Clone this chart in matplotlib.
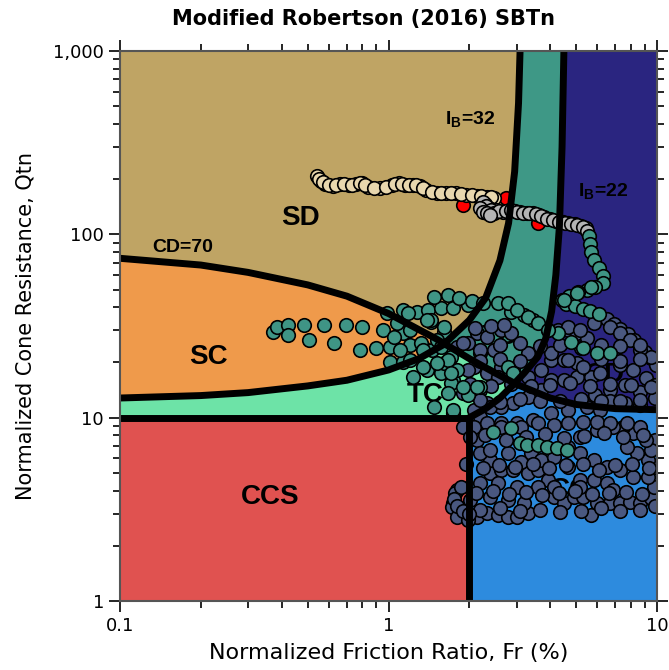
import numpy as np
import matplotlib.pyplot as plt
from matplotlib.colors import ListedColormap
from matplotlib.ticker import FixedLocator, FuncFormatter, NullFormatter

plt.rcParams['mathtext.fontset'] = 'custom'
plt.rcParams['mathtext.bf'] = 'Liberation Sans:bold'
plt.rcParams['mathtext.rm'] = 'Liberation Sans:bold'

# zone boundaries (Fr %, Qtn)
cd70_fr = [0.1, 0.2, 0.3, 0.5, 0.7, 1.0, 1.5, 2.0, 2.5, 3.0, 4.0, 5.0, 7.0, 10.0]
cd70_q = [74, 68, 62, 53, 46, 37, 27, 21, 17.5, 15.2, 12.8, 11.8, 11.2, 11.05]
ib32_fr = [0.1, 0.2, 0.3, 0.5, 0.7, 1.0, 1.3, 1.6, 2.0, 2.3, 2.6, 2.8, 2.95, 3.05, 3.09]
ib32_q = [12.8, 13.2, 13.7, 14.9, 16.0, 18.2, 21, 25, 34, 45, 72, 115, 220, 520, 1000]
ib22_fr = [2.0, 2.3, 2.6, 2.9, 3.2, 3.6, 3.85, 4.05, 4.2, 4.33, 4.43, 4.5]
ib22_q = [10, 11.2, 12.8, 15, 17.5, 21.5, 27, 38, 60, 110, 300, 1000]
ccs_fr = 2.0
ccs_q = 10.0

zone_names = ['SD', 'TD', 'CD', 'SC', 'TC', 'CC', 'CCS']
zone_colors = ['#BFA464', '#3E9886', '#2A2580', '#EF9A4B', '#6DE3A7', '#2D8BDE', '#E05250']
label_fr = [0.47, 2.61, 6.4, 0.214, 1.37, 4.75, 0.363]
label_q = [123, 27.6, 17.1, 21.4, 13.3, 4.03, 3.69]

# CPT data points
red_fr = [1.90, 2.73, 3.59]
red_q = [145, 158, 115]

beige_fr = [0.54, 0.56, 0.58, 0.62, 0.66, 0.71, 0.76, 0.80, 0.84, 0.93, 1.03, 1.09,
            1.15, 1.23, 1.31, 1.38, 1.51, 1.64, 1.79, 1.95, 2.13, 2.32, 2.48,
            0.55, 0.57, 0.60, 0.64, 0.68, 0.73, 0.78, 0.82, 0.88, 0.98, 1.06, 1.12,
            1.19, 1.27, 1.35, 1.45, 1.57, 1.71, 1.87, 2.04, 2.22, 2.40]
beige_q = [208, 196, 188, 184, 188, 186, 188, 191, 181, 179, 186, 191,
           186, 186, 184, 175, 168, 168, 168, 164, 162, 160, 158,
           200, 192, 186, 186, 187, 186, 190, 185, 180, 182, 189, 188,
           186, 185, 180, 171, 168, 168, 166, 163, 161, 159]

gray_fr = [2.28, 2.36, 2.44, 2.52, 2.66, 2.80, 2.95, 3.10, 3.27, 3.44, 3.62, 3.81,
           4.01, 4.22, 4.45, 4.68, 4.93, 5.19, 5.46,
           2.24, 2.30, 2.40, 2.48, 2.59, 2.73, 2.87, 3.02, 3.18, 3.35, 3.53, 3.71,
           3.91, 4.11, 4.33, 4.56, 4.80, 5.05, 5.32, 5.50, 2.20, 2.25, 2.32, 2.38]
gray_q = [146, 139, 132, 136, 132, 136, 134, 132, 131, 131, 128, 124,
          121, 118, 117, 115, 114, 111, 108,
          150, 142, 135, 130, 134, 134, 135, 133, 131, 131, 129, 126,
          122, 120, 117, 116, 114, 112, 110, 104, 140, 133, 130, 128]

teal_fr = [5.56, 5.65, 5.70, 5.85, 6.06, 6.27, 6.27, 5.90, 5.51, 5.10, 4.72, 4.41,
           4.60, 4.93, 5.28, 5.65, 6.06,
           0.370, 0.386, 0.421, 0.424, 0.483, 0.504, 0.573, 0.624, 0.692, 0.800, 0.950,
           0.786, 0.895, 1.017, 1.137, 1.044, 1.207, 1.350, 1.458, 1.017, 1.137, 1.239,
           1.397, 1.562, 1.746, 1.969, 2.201, 0.991, 1.137, 1.282, 1.409, 1.562, 1.746,
           1.969, 1.434, 1.603, 1.522, 1.702, 1.807, 1.603,
           1.471, 1.659, 1.83, 2.055, 2.258, 2.547, 2.847, 3.183, 3.467, 1.177, 1.434,
           1.207, 1.316, 1.562, 1.659, 1.702, 2.145, 1.746,
           4.486, 5.057, 5.654, 4.261, 4.763, 5.324, 6.003, 2.775, 3.023, 3.294, 3.589,
           3.911, 6.711, 2.775, 2.921,
           1.08, 1.397, 1.603, 1.350, 1.207, 1.350, 1.522, 1.702, 1.902, 1.659, 1.471,
           1.746, 1.108,
           2.44, 2.85, 3.10, 3.29, 3.59, 3.91, 4.26, 4.64]
teal_q = [98, 89, 80, 72.5, 65.6, 59.3, 54.3, 51.6, 49.7, 48.5, 46.1, 43.9,
          41.7, 40.7, 39.2, 38.2, 36.8,
          29.3, 31.3, 32.0, 28.3, 32.0, 26.5, 32.0, 25.6, 32.0, 31.3, 30.1,
          23.4, 24.0, 24.3, 29.0, 27.6, 24.9, 24.3, 23.4, 20.1, 20.1, 16.7,
          18.2, 17.5, 16.1, 13.3, 14.7, 37.3, 38.7, 37.7, 38.7, 39.7, 39.7,
          41.2, 33.3, 29.3, 26.5, 21.4, 18.2, 19.9,
          45.5, 46.7, 45.0, 43.1, 42.3, 42.3, 37.7, 36.3, 34.1, 37.3, 34.1,
          30.1, 25.6, 24.3, 20.6, 15.5, 14.7, 10.6,
          43.9, 47.9, 51.6, 29.0, 25.9, 24.0, 22.5, 42.3, 38.7, 35.4, 32.9,
          30.1, 22.5, 18.9, 17.5,
          32.9, 34.1, 31.3, 23.4, 20.6, 18.9, 19.9, 17.5, 14.7, 13.6, 11.4,
          11.0, 23.4,
          8.4, 8.8, 7.3, 7.1, 7.1, 6.9, 6.8, 6.7]

slate_fr = [6.49, 6.89, 7.31, 7.77, 8.18, 8.61, 9.06, 9.46, 9.88,
            2.145, 2.337, 2.613, 2.847, 2.461, 2.201, 1.969, 1.807, 2.613, 2.921, 3.294,
            2.337, 2.073, 1.969, 3.294, 3.911, 4.261, 4.642, 5.057, 5.510, 4.013, 4.486,
            5.057, 3.683, 4.013, 4.486, 5.057, 5.654, 3.683, 3.294, 2.921, 2.613, 2.337,
            2.073, 2.258, 2.613, 3.023, 3.467, 4.013, 4.642, 5.510, 6.159, 1.902, 2.201,
            2.547, 2.201, 1.902, 2.398, 2.201, 1.902, 2.145,
            4.642, 5.189, 5.801, 6.711, 7.311, 7.966, 8.679, 9.458, 4.013, 4.642, 5.324,
            6.159, 7.311, 8.174, 9.063, 9.872, 7.6, 8.679, 9.872, 6.711, 5.9, 6.711,
            7.6, 8.679,
            1.807, 1.746, 1.855, 2.020, 2.145, 2.337, 2.547, 2.775, 3.023, 3.294, 3.183,
            2.775, 2.398, 2.201, 2.398, 2.613, 2.921, 3.294, 3.589, 3.911, 4.117, 4.486,
            4.887, 5.324, 5.654, 6.003, 6.711, 7.311, 7.966, 8.679, 9.458, 9.705, 9.218,
            9.705, 9.218, 8.459, 7.764, 8.174, 7.502, 6.886, 6.003, 5.189, 4.642, 5.189,
            5.801, 6.540, 7.311, 8.174, 4.642, 5.189, 5.801, 6.540, 6.886, 5.189, 4.117,
            3.589, 3.023, 2.547, 2.398, 2.201, 2.398, 2.775, 3.102, 3.380, 3.683, 4.117,
            2.073, 2.337, 2.613, 3.102, 3.589, 4.117, 4.642, 5.324, 6.003, 6.711, 7.764,
            8.679, 1.73, 1.776, 1.855, 1.807, 1.969, 9.872, 9.458, 9.063, 9.87,
            2.02, 2.29, 2.73, 3.24, 3.82, 4.52, 5.36, 6.35, 7.5, 8.9,
            1.94, 2.24, 2.57, 2.97, 3.44, 3.95, 4.57, 5.28, 6.07, 7.0, 8.1, 9.3,
            2.11, 2.44, 2.80, 3.24, 3.74, 4.3, 4.97, 5.75, 6.62, 7.65, 8.8,
            2.2, 2.61, 3.10, 3.68, 4.37, 5.19, 6.16, 7.31, 8.68,
            1.75, 1.80, 1.90, 2.00,
            2.1, 2.4, 2.7,
            2.61, 3.10, 3.68, 4.37, 5.19, 6.16, 7.31, 8.68,
            2.02, 2.4, 2.85, 3.38, 4.01, 4.76, 5.65, 6.71, 7.97, 9.46,
            2.2, 2.61, 3.10, 3.68, 4.37, 5.19, 6.16, 7.31, 8.68,
            2.2, 2.61, 3.10, 6.16, 7.31, 8.68]
slate_q = [34.5, 32.4, 30.5, 28.6, 26.5, 24.6, 22.8, 21.2, 19.4,
           29.0, 27.6, 30.1, 29.0, 23.4, 22.5, 25.6, 24.3, 18.9, 18.2, 16.7,
           17.5, 18.9, 18.2, 22.5, 30.1, 30.1, 30.1, 29.0, 27.2, 20.6, 20.6,
           19.9, 18.2, 16.1, 16.1, 16.7, 16.7, 14.2, 13.0, 12.0, 11.4, 12.0,
           11.0, 9.5, 9.4, 9.4, 9.7, 10.6, 11.0, 11.4, 11.0, 25.6, 23.4,
           16.7, 14.2, 13.6, 11.4, 10.1, 8.9, 7.6,
           31.3, 30.1, 32.9, 31.3, 29.0, 26.5, 23.4, 21.4, 22.5, 20.6, 18.9,
           17.5, 19.4, 18.2, 16.4, 15.1, 15.1, 13.8, 12.8, 14.2, 13.3, 12.4,
           12.0, 11.7,
           4.03, 3.42, 3.02, 3.56, 2.87, 3.02, 2.95, 2.87, 2.87, 3.02, 3.42,
           3.56, 3.69, 4.40, 5.0, 5.2, 5.2, 5.0, 5.2, 4.57, 3.69, 3.42,
           3.69, 3.69, 2.95, 3.42, 3.42, 3.42, 3.47, 3.42, 3.65, 4.19, 4.75,
           5.4, 5.9, 6.4, 6.9, 8.3, 8.9, 8.9, 8.6, 7.8, 6.9, 6.4,
           5.9, 5.4, 5.2, 4.75, 5.4, 4.57, 4.57, 4.40, 4.03, 4.19, 4.19,
           4.19, 4.19, 4.40, 5.9, 6.4, 6.7, 6.4, 5.7, 6.4, 5.9, 6.1,
           8.9, 9.4, 8.9, 8.9, 9.4, 9.1, 9.4, 9.5, 9.5, 9.4, 9.4,
           8.9, 3.26, 3.88, 4.19, 2.87, 2.77, 7.6, 6.7, 7.6, 3.3,
           7.8, 8.0, 7.6, 7.8, 8.1, 7.7, 7.9, 8.2, 7.8, 8.0,
           5.6, 5.3, 5.5, 5.4, 5.6, 5.3, 5.5, 5.6, 5.2, 5.5, 5.6, 5.3,
           3.9, 4.0, 3.85, 3.95, 3.8, 3.9, 4.0, 3.85, 3.9, 3.95, 3.85,
           3.14, 3.2, 3.1, 3.15, 3.05, 3.1, 3.2, 3.1, 3.15,
           3.6, 3.3, 3.1, 3.0,
           31, 31.5, 32,
           25, 25.5, 24.5, 25, 24, 25, 24.5, 25,
           15.2, 14.8, 15.3, 14.9, 15.1, 15.4, 14.9, 15.2, 15.0, 14.7,
           12.5, 12.2, 12.7, 12.4, 12.3, 12.6, 12.4, 12.3, 12.5,
           20.5, 21, 20.3, 20.8, 20.5, 21]

fig = plt.figure(figsize=(6.69, 6.70), dpi=100)
ax = fig.add_axes([120 / 669, 1 - 601 / 670, 537 / 669, 550 / 670])
ax.set_xscale('log')
ax.set_yscale('log')

# zone fill
fr_e = np.logspace(-1, 1, 601)
q_e = np.logspace(0, 3, 901)
FR, Q = np.meshgrid(np.sqrt(fr_e[:-1] * fr_e[1:]), np.sqrt(q_e[:-1] * q_e[1:]))
lf, lq = np.log10(FR), np.log10(Q)
q_cd = np.interp(lf, np.log10(cd70_fr), np.log10(cd70_q))
q_32 = np.interp(lf, np.log10(ib32_fr), np.log10(ib32_q), right=9)
q_22 = np.interp(lf, np.log10(ib22_fr), np.log10(ib22_q), left=-9, right=9)
zone = np.where(lq > q_cd,
                np.where(lq > q_32, 0, np.where(lq > q_22, 1, 2)),
                np.where(lq > q_32, 3, np.where(lq > q_22, 4, 5)))
zone[(FR < ccs_fr) & (Q < ccs_q)] = 6
ax.pcolormesh(fr_e, q_e, zone, cmap=ListedColormap(zone_colors), vmin=-0.5, vmax=6.5,
              shading='flat', zorder=0, rasterized=True)

for name, x, y in zip(zone_names, label_fr, label_q):
    ax.text(x, y, name, ha='center', va='center', fontsize=20, fontweight='bold',
            family='Liberation Sans', zorder=1)
lab = dict(ha='center', va='center', fontsize=14, fontweight='bold',
           family='Liberation Sans', zorder=1)
ax.text(0.171, 85, 'CD=70', **lab)
ax.text(2.02, 421, r'I$_{\mathbf{B}}$=32', **lab)
ax.text(6.32, 170, r'I$_{\mathbf{B}}$=22', **lab)

pt = dict(s=95, edgecolors='black', linewidths=1.2, zorder=3)
ax.scatter(red_fr, red_q, c='#FF0000', **pt)
ax.scatter(beige_fr, beige_q, c='#E8D7AE', **pt)
ax.scatter(gray_fr, gray_q, c='#B4B4B4', **pt)
ax.scatter(slate_fr, slate_q, c='#4A5880', **pt)
ax.scatter(teal_fr, teal_q, c='#3F9585', **pt)

lw = 5
ax.plot(cd70_fr, cd70_q, color='black', lw=lw, zorder=4)
ax.plot(ib32_fr, ib32_q, color='black', lw=lw, zorder=4)
ax.plot(ib22_fr, ib22_q, color='black', lw=lw, zorder=4)
ax.plot([0.1, ccs_fr], [ccs_q, ccs_q], color='black', lw=lw, zorder=4, solid_capstyle='butt')
ax.plot([ccs_fr, ccs_fr], [1, ccs_q], color='black', lw=lw, zorder=4, solid_capstyle='butt')

ax.set_xlim(0.1, 10)
ax.set_ylim(1, 1000)
ax.xaxis.set_major_locator(FixedLocator([0.1, 1, 10]))
ax.yaxis.set_major_locator(FixedLocator([1, 10, 100, 1000]))
ax.xaxis.set_major_formatter(FuncFormatter(lambda v, p: f'{v:g}'))
ax.yaxis.set_major_formatter(FuncFormatter(lambda v, p: f'{v:,.0f}'))
ax.xaxis.set_minor_formatter(NullFormatter())
ax.yaxis.set_minor_formatter(NullFormatter())
ax.tick_params(which='both', direction='out', top=True, right=True, color='black',
               width=1.2, labelsize=13)
ax.tick_params(which='major', length=8)
ax.tick_params(which='minor', length=5)
for s in ax.spines.values():
    s.set_color('#555555')
    s.set_linewidth(1.5)
    s.set_zorder(5)

ax.set_xlabel('Normalized Friction Ratio, Fr (%)', fontsize=16, labelpad=6)
ax.set_ylabel('Normalized Cone Resistance, Qtn', fontsize=15, labelpad=13)
fig.text(0.544, 0.972, 'Modified Robertson (2016) SBTn', ha='center', va='center',
         fontsize=15, fontweight='bold')

fig.savefig('out.png', dpi=100)
